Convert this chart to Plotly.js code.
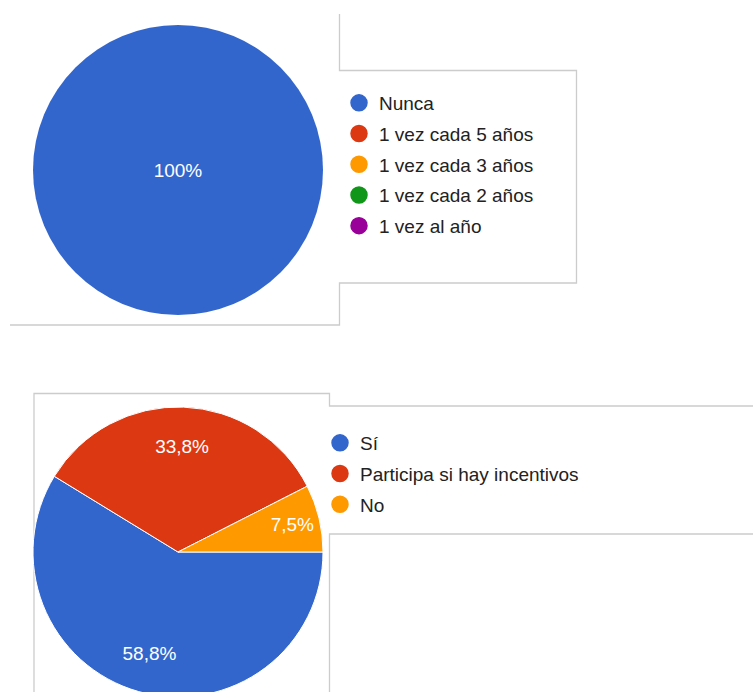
<!DOCTYPE html>
<html>
<head>
<meta charset="utf-8">
<script src="https://cdn.plot.ly/plotly-3.0.1.min.js"></script>
<style>
html,body{margin:0;padding:0;overflow:hidden;background:#fff;width:753px;height:692px}
#wrap{width:753px;height:692px;overflow:hidden;position:relative}
</style>
</head>
<body>
<div id="wrap"><div id="chart"></div></div>
<script>
// ---- data ----
const freqLabels = ['Nunca', '1 vez cada 5 años', '1 vez cada 3 años', '1 vez cada 2 años', '1 vez al año'];
const freqValues = [100, 0, 0, 0, 0];
const freqColors = ['#3366cc', '#dc3912', '#ff9900', '#109618', '#990099'];

const partLabels = ['Sí', 'Participa si hay incentivos', 'No'];
const partValues = [58.8, 33.8, 7.5];
const partColors = ['#3366cc', '#dc3912', '#ff9900'];

// ---- helpers ----
const W = 753, H = 700;
const px = x => x / W;
const py = y => 1 - y / H;
const FONT = 'Liberation Sans, Arial, Helvetica, sans-serif';
const fmt = v => (Number.isInteger(v) ? String(v) : v.toFixed(1).replace('.', ',')) + '%';

function pieTrace(labels, values, colors, dom, opts) {
  return Object.assign({
    type: 'pie',
    labels: labels,
    values: values,
    text: values.map(fmt),
    textinfo: 'text',
    textposition: 'inside',
    insidetextorientation: 'horizontal',
    textfont: {color: '#ffffff', size: 19, family: FONT},
    marker: {colors: colors, line: {color: '#ffffff', width: 1}},
    sort: false,
    direction: 'clockwise',
    rotation: 90,
    showlegend: false,
    hoverinfo: 'label+percent',
    domain: dom
  }, opts || {});
}

function legendTraces(labels, colors, legendId, prefix) {
  return labels.map((l, i) => ({
    type: 'scatter',
    x: [null], y: [null],
    mode: 'markers',
    marker: {color: colors[i], size: 16, symbol: 'circle', line: {color: colors[i], width: 1.5}},
    name: l,
    legend: legendId,
    legendgroup: prefix + i,
    showlegend: true,
    hoverinfo: 'skip'
  }));
}

const dom1 = {x: [px(33), px(323)], y: [py(315), py(25)]};
const dom2 = {x: [px(33), px(323)], y: [py(697), py(407)]};

const traces = [
  pieTrace(freqLabels, freqValues, freqColors, dom1,
           {marker: {colors: freqColors, line: {width: 0}}}),
  // the visible pie
  pieTrace(partLabels, partValues, partColors, dom2, {textinfo: 'none'}),
  // transparent ring over it that only carries the labels, placing them out in the ring like the original
  pieTrace(partLabels, partValues, partColors, dom2,
           {hole: 0.45, marker: {colors: partColors.map(() => 'rgba(0,0,0,0)'), line: {width: 0}}})
].concat(legendTraces(freqLabels, freqColors, 'legend', 'f'))
 .concat(legendTraces(partLabels, partColors, 'legend2', 'p'));

const line = {color: '#cccccc', width: 1.3};
function pathOf(pts) {
  return pts.map((p, i) => (i ? 'L' : 'M') + px(p[0]).toFixed(5) + ',' + py(p[1]).toFixed(5)).join(' ');
}
const shapes = [
  {type: 'path', xref: 'paper', yref: 'paper', layer: 'below', line: line,
   path: pathOf([[10, 325], [339.5, 325], [339.5, 283], [576.5, 283], [576.5, 70.5], [339.5, 70.5], [339.5, 14]])},
  {type: 'path', xref: 'paper', yref: 'paper', layer: 'below', line: line,
   path: pathOf([[34, 700], [34, 393.5], [329.5, 393.5], [329.5, 406], [753, 406]])},
  {type: 'path', xref: 'paper', yref: 'paper', layer: 'below', line: line,
   path: pathOf([[753, 534], [329.5, 534], [329.5, 700]])}
];

const legendBase = {
  xanchor: 'left', yanchor: 'top',
  font: {size: 19, color: '#222222', family: FONT},
  bgcolor: 'rgba(0,0,0,0)',
  tracegroupgap: 3,
  traceorder: 'grouped',
  itemwidth: 30,
  itemsizing: 'trace',
  itemclick: false, itemdoubleclick: false
};

const layout = {
  width: W, height: H,
  margin: {l: 0, r: 0, t: 0, b: 0},
  paper_bgcolor: '#ffffff',
  plot_bgcolor: 'rgba(0,0,0,0)',
  font: {family: FONT},
  xaxis: {visible: false, domain: [0, 0.01]},
  yaxis: {visible: false, domain: [0, 0.01]},
  legend: Object.assign({}, legendBase, {x: px(339), y: py(84)}),
  legend2: Object.assign({}, legendBase, {x: px(320), y: py(424)}),
  shapes: shapes
};

Plotly.newPlot('chart', traces, layout, {displayModeBar: false, staticPlot: true});
</script>
</body>
</html>
